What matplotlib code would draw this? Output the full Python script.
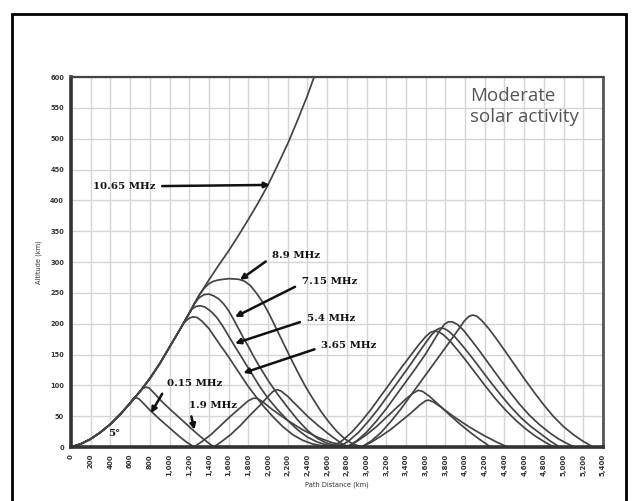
import numpy as np
import matplotlib.pyplot as plt
from matplotlib.patches import Rectangle

# escala dos eixos
x_ticks = list(range(0, 5401, 200))
y_ticks = list(range(0, 601, 50))

# curva 10.65 MHz (escapa da ionosfera)
km_1065 = [0, 100, 200, 300, 400, 500, 600, 700, 800, 900, 1000, 1100, 1200, 1300, 1400, 1500, 1600, 1700,
           1800, 1900, 2000, 2100, 2200, 2300, 2400, 2490]
alt_1065 = [0, 5, 13, 24, 37, 53, 71, 90, 111, 135, 162, 189, 217, 246, 271, 295, 318, 343,
            369, 396, 425, 458, 492, 530, 570, 610]

# primeiro salto
km_89_a = [0, 100, 200, 300, 400, 500, 600, 700, 800, 900, 1000, 1100, 1200, 1300, 1350, 1400, 1450, 1500, 1600,
           1700, 1760, 1820, 1880, 1950, 2020, 2090, 2160, 2230, 2300, 2380, 2460, 2540, 2620, 2700, 2780, 2860, 2950]
alt_89_a = [0, 5, 13, 24, 37, 53, 71, 90, 111, 135, 162, 189, 217, 246, 257, 265, 269, 271, 273,
            272, 269, 262, 250, 234, 213, 190, 167, 144, 122, 98, 77, 57, 40, 25, 13, 5, 0]
km_715_a = [0, 100, 200, 300, 400, 500, 600, 700, 800, 900, 1000, 1100, 1200, 1250, 1300, 1350, 1400, 1450, 1500,
            1550, 1600, 1650, 1700, 1750, 1800, 1850, 1900, 1950, 2000, 2100, 2200, 2300, 2400, 2500, 2600, 2700, 2800]
alt_715_a = [0, 5, 13, 24, 37, 53, 71, 90, 111, 135, 162, 189, 217, 232, 242, 247, 248, 245, 240,
             232, 221, 207, 192, 177, 163, 148, 134, 121, 108, 85, 64, 44, 27, 14, 6, 2, 0]
km_54_a = [0, 100, 200, 300, 400, 500, 600, 700, 800, 900, 1000, 1100, 1200, 1230, 1270, 1310, 1360, 1420, 1480,
           1540, 1600, 1660, 1715, 1780, 1850, 1920, 2000, 2100, 2200, 2300, 2400, 2500, 2600, 2720]
alt_54_a = [0, 5, 13, 24, 37, 53, 71, 90, 111, 135, 162, 189, 217, 224, 228, 229, 227, 220, 210,
            196, 180, 164, 150, 133, 115, 97, 79, 60, 43, 28, 16, 8, 3, 0]
km_365_a = [0, 100, 200, 300, 400, 500, 600, 700, 800, 900, 1000, 1100, 1150, 1200, 1240, 1280, 1330, 1400, 1460,
            1520, 1583, 1650, 1720, 1800, 1880, 1960, 2050, 2150, 2250, 2350, 2450, 2550, 2650]
alt_365_a = [0, 5, 13, 24, 37, 53, 71, 90, 111, 135, 162, 189, 202, 209, 211, 210, 204, 192, 178,
             164, 150, 134, 117, 98, 81, 65, 49, 33, 20, 11, 5, 2, 0]
km_19_a = [0, 100, 200, 300, 400, 500, 600, 700, 730, 760, 790, 840, 914, 1000, 1117, 1220, 1320, 1400, 1450]
alt_19_a = [0, 5, 13, 24, 37, 53, 71, 90, 95, 97, 96, 88, 75, 62, 45, 30, 16, 6, 0]
km_015_a = [0, 100, 200, 300, 400, 500, 560, 600, 630, 660, 690, 740, 812, 900, 1000, 1100, 1180, 1250]
alt_015_a = [0, 5, 13, 24, 37, 53, 64, 72, 78, 80, 78, 70, 58, 45, 31, 17, 7, 0]

# segundo salto
km_89_b = [2950, 3050, 3150, 3250, 3350, 3450, 3550, 3650, 3750, 3850, 3930, 3990, 4040, 4080, 4120, 4170, 4240,
           4320, 4400, 4500, 4600, 4700, 4800, 4900, 5000, 5100, 5200, 5300]
alt_89_b = [0, 10, 24, 42, 62, 84, 106, 128, 150, 172, 190, 204, 212, 214, 212, 205, 192,
            175, 157, 134, 111, 89, 68, 49, 33, 20, 9, 0]
km_715_b = [2800, 2900, 3000, 3100, 3200, 3300, 3400, 3500, 3600, 3680, 3740, 3790, 3830, 3870, 3920, 3980, 4060,
            4150, 4250, 4350, 4450, 4550, 4650, 4750, 4850, 4950, 5030, 5110]
alt_715_b = [0, 10, 24, 42, 62, 84, 106, 128, 151, 172, 188, 199, 203, 203, 199, 190, 174,
             155, 133, 111, 90, 70, 52, 37, 24, 13, 6, 0]
km_54_b = [2720, 2820, 2920, 3020, 3120, 3220, 3320, 3420, 3520, 3600, 3660, 3710, 3750, 3790, 3840, 3900, 3980,
           4070, 4170, 4270, 4370, 4470, 4570, 4670, 4770, 4870, 4960]
alt_54_b = [0, 10, 24, 42, 62, 84, 106, 128, 151, 169, 182, 190, 193, 192, 187, 178, 163,
            145, 124, 103, 83, 64, 47, 33, 21, 9, 0]
km_365_b = [2650, 2750, 2850, 2950, 3050, 3150, 3250, 3350, 3450, 3530, 3600, 3650, 3690, 3730, 3780, 3840, 3920,
            4010, 4110, 4210, 4310, 4410, 4510, 4610, 4710, 4810, 4900]
alt_365_b = [0, 10, 24, 42, 62, 84, 106, 128, 149, 166, 179, 186, 188, 187, 182, 173, 158,
             140, 119, 98, 78, 60, 44, 30, 18, 8, 0]
km_19_b = [1450, 1530, 1620, 1720, 1820, 1920, 2000, 2050, 2090, 2130, 2200, 2300, 2400, 2500, 2600, 2700, 2800]
alt_19_b = [0, 9, 20, 35, 52, 68, 82, 90, 93, 91, 82, 66, 50, 36, 23, 11, 0]
km_015_b = [1250, 1330, 1420, 1520, 1620, 1720, 1800, 1850, 1890, 1940, 2050, 2200, 2350, 2500, 2650, 2800, 2950]
alt_015_b = [0, 9, 20, 35, 50, 64, 75, 79, 79, 74, 60, 43, 28, 16, 7, 2, 0]

# terceiro salto (frequencias baixas)
km_19_c = [2800, 2900, 3000, 3100, 3200, 3300, 3400, 3470, 3525, 3570, 3640, 3750, 3850, 3950, 4050, 4150, 4260]
alt_19_c = [0, 9, 20, 33, 48, 63, 78, 87, 92, 90, 82, 66, 51, 37, 24, 12, 0]
km_015_c = [2950, 3050, 3150, 3250, 3350, 3450, 3540, 3600, 3630, 3680, 3760, 3870, 3980, 4090, 4200, 4320, 4430]
alt_015_c = [0, 8, 18, 29, 42, 55, 68, 75, 76, 73, 64, 51, 39, 28, 18, 8, 0]

curvas = [
    (km_1065, alt_1065), (km_89_a, alt_89_a), (km_715_a, alt_715_a), (km_54_a, alt_54_a),
    (km_365_a, alt_365_a), (km_19_a, alt_19_a), (km_015_a, alt_015_a),
    (km_89_b, alt_89_b), (km_715_b, alt_715_b), (km_54_b, alt_54_b), (km_365_b, alt_365_b),
    (km_19_b, alt_19_b), (km_015_b, alt_015_b), (km_19_c, alt_19_c), (km_015_c, alt_015_c),
]

# rotulos: texto, posicao do texto, ponta da seta
rotulos = [
    ('10.65 MHz', (220, 423), (2020, 425)),
    ('8.9 MHz', (2040, 311), (1715, 271)),
    ('7.15 MHz', (2340, 268), (1665, 211)),
    ('5.4 MHz', (2392, 209), (1665, 168)),
    ('3.65 MHz', (2540, 165), (1749, 120)),
    ('0.15 MHz', (975, 103), (812, 55)),
    ('1.9 MHz', (1200, 68), (1252, 28)),
]

fig = plt.figure(figsize=(6.38, 5.01), dpi=100)
fig.patches.append(Rectangle((12/638, -0.05), 614/638, 1.05 - 14/501, transform=fig.transFigure,
                             fill=False, edgecolor='black', linewidth=2))
ax = fig.add_axes([71/638, 1 - 447/501, 532/638, 370/501])

for km, alt in curvas:
    ax.plot(km, alt, color='#444444', linewidth=1.25, solid_joinstyle='round')

fonte_rotulo = dict(family='DejaVu Serif', weight='bold', fontsize=7.4, color='#111')
for texto, pos, ponta in rotulos:
    lado = (1, 0.5) if texto == '10.65 MHz' else (0, 0.3)
    ax.annotate(texto, xy=ponta, xytext=pos, ha='left', va='center',
                arrowprops=dict(arrowstyle='-|>', color='#111', lw=1.8, mutation_scale=8,
                                relpos=lado, shrinkA=3, shrinkB=0),
                **fonte_rotulo)

ax.text(372, 22, '5°', ha='left', va='center', **fonte_rotulo)
ax.text(4050, 583, 'Moderate\nsolar activity', ha='left', va='top', fontsize=13.5,
        family='Open Sans', color='#555', linespacing=1.2)

ax.set_xlim(0, 5400)
ax.set_ylim(0, 600)
ax.set_xticks(x_ticks)
ax.set_xticklabels([f'{v:,}' for v in x_ticks], rotation=90, fontsize=5, fontweight='bold', color='#333')
ax.set_yticks(y_ticks)
ax.set_yticklabels([str(v) for v in y_ticks], fontsize=4.8, fontweight='bold', color='#333')
ax.tick_params(length=0, pad=5)
ax.grid(True, color='#d5d5d5', linewidth=1.0)
ax.set_axisbelow(True)
for lado, lw, cor in [('left', 2.6, '#333'), ('bottom', 2.6, '#333'), ('top', 1.6, '#444'), ('right', 2.0, '#555')]:
    ax.spines[lado].set_linewidth(lw)
    ax.spines[lado].set_color(cor)

ax.set_xlabel('Path Distance (km)', fontsize=4.8, color='#333', labelpad=4)
ax.set_ylabel('Altitude (km)', fontsize=4.8, color='#333', labelpad=6)

plt.savefig('out.png', dpi=100)
